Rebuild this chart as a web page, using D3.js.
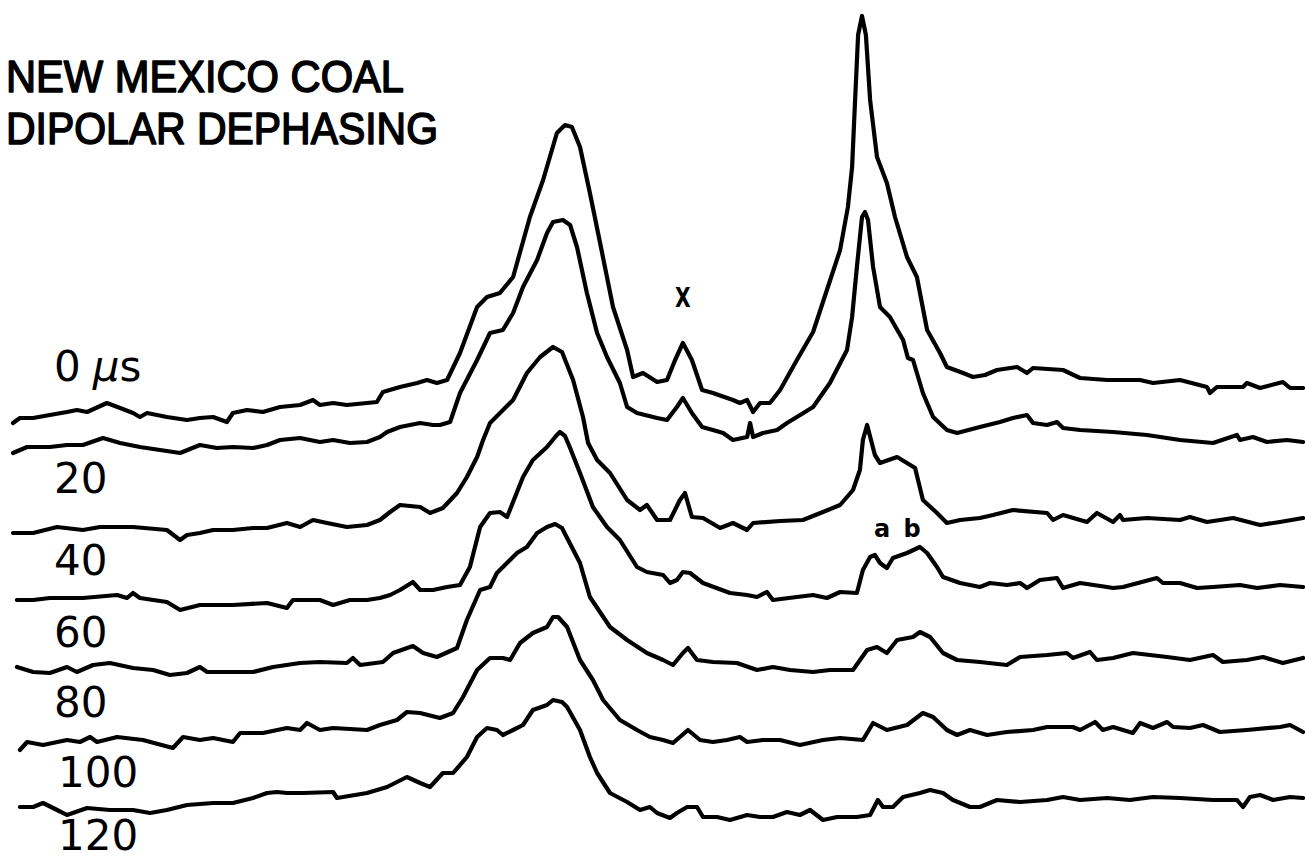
<!DOCTYPE html>
<html>
<head>
<meta charset="utf-8">
<script src="https://cdn.jsdelivr.net/npm/d3@7"></script>
<style>
  html, body { margin: 0; padding: 0; background: #fff; }
  svg { display: block; }
</style>
</head>
<body>
<svg id="chart" width="1305" height="861"></svg>
<script>
// Dipolar-dephasing delays (µs), one spectrum per delay
const delays = [0, 20, 40, 60, 80, 100, 120];
const delayLabels = ["0", "20", "40", "60", "80", "100", "120"];

// Spectra: [chemical shift (ppm), intensity (arb. units)]
const spec0 = [
  [314.0,-16.5],[311.7,-14],[307.3,-14],[301.7,-12.5],[296.0,-11],[292.7,-10],[289.3,-11],[282.7,-6.5],
  [278.3,-9],[274.0,-11.5],[271.7,-13.5],[269.3,-11.5],[262.7,-13.5],[256.0,-15],[251.7,-14],[247.3,-13.5],
  [242.7,-16],[240.7,-11.5],[236.0,-10],[230.7,-11],[225.0,-8.5],[218.3,-7.5],[214.0,-5],[211.7,-7.5],
  [207.3,-6.5],[202.7,-7.5],[196.0,-6.5],[192.7,-6],[190.7,-1],[185.0,1.5],[179.3,3.5],[176.0,5],
  [172.7,3.5],[169.3,5],[165.0,18.5],[159.3,41.5],[156.0,46.5],[151.7,48.5],[147.3,56.5],[141.7,86.5],
  [137.3,105],[132.7,128.5],[130.0,132.5],[127.7,131.5],[125.0,121.5],[121.7,98.5],[118.3,73.5],[114.0,41.5],
  [109.3,20],[107.3,6.5],[104.0,8.5],[99.3,4],[96.0,5],[93.3,15],[90.7,23.5],[87.7,15],
  [84.3,0],[80.7,-1.5],[74.0,-5],[71.7,-6.5],[69.3,-5],[67.3,-11],[65.0,-6.5],[61.7,-6.5],
  [58.3,0],[52.7,15],[47.3,29],[42.7,50],[38.3,70],[35.7,91.5],[34.3,111.5],[33.3,145],
  [32.3,177.5],[31.0,187],[29.7,177.5],[28.3,145],[26.0,116.5],[22.7,103.5],[20.0,86.5],[16.0,66.5],
  [12.7,56.5],[9.3,30],[5.0,18.5],[2.7,11.5],[-2.7,8.5],[-6.0,6.5],[-10.0,7.5],[-14.0,10],
  [-20.7,11.5],[-24.0,8.5],[-26.0,11],[-36.0,10],[-41.7,6],[-50.7,5],[-61.7,5],[-66.0,3.5],
  [-75.0,5],[-84.0,1.5],[-85.0,-1.5],[-87.3,1.5],[-96.0,1.5],[-97.3,3.5],[-101.7,1],[-109.3,4],
  [-111.7,1],[-116.0,1]
];

const spec20 = [
  [314.0,3.5],[309.3,6.5],[301.7,6.5],[296.0,7.5],[290.7,7.5],[284.0,11],[278.3,8.5],[271.7,6.5],
  [265.0,5],[258.3,3.5],[251.7,7.5],[246.0,6],[240.7,6.5],[234.0,6],[229.3,7.5],[225.0,10],
  [218.3,11],[211.7,9],[207.3,10],[201.7,8.5],[196.0,9],[191.7,11.5],[189.3,14],[185.0,16.5],
  [178.3,18.5],[174.0,17.5],[171.7,17.5],[168.3,19],[165.0,33.5],[159.3,50],[155.0,63.5],[150.7,65],
  [147.3,73.5],[144.0,86.5],[139.3,100],[136.0,113.5],[134.0,119],[130.7,120],[128.3,117.5],[126.0,106.5],
  [122.7,83.5],[119.3,63.5],[116.0,51.5],[111.7,38.5],[109.3,26.5],[106.0,23.5],[99.3,21],[96.0,20],
  [92.7,26.5],[90.7,31],[87.7,23.5],[84.3,16.5],[80.7,15],[77.3,13.5],[74.0,10],[69.3,11.5],
  [68.3,18.5],[67.3,11.5],[64.0,13.5],[59.3,15],[56.0,18.5],[52.7,21.5],[47.3,26.5],[41.7,38.5],
  [36.0,55],[34.3,71.5],[32.7,96.5],[31.0,121.5],[30.0,124],[29.0,120],[27.3,96.5],[25.0,76.5],
  [21.7,71.5],[17.3,60],[15.7,51],[14.0,50],[10.7,33.5],[7.3,21.5],[2.7,15],[-0.7,13.5],
  [-8.3,16.5],[-15.0,19],[-19.3,21],[-24.0,22.5],[-26.0,18.5],[-30.7,17.5],[-34.0,19],[-36.0,16],
  [-41.7,15],[-52.7,14],[-64.0,12.5],[-75.0,10],[-86.0,8.5],[-94.0,12.5],[-95.0,10],[-99.3,11.5],
  [-104.0,9],[-110.7,10],[-116.0,9]
];

const spec40 = [
  [314.0,-1.5],[307.3,-1.5],[299.3,1.5],[290.7,0],[285.0,1.5],[279.3,1.5],[274.0,1.5],[262.7,0],
  [258.3,-5],[256.0,-2.5],[251.7,-1.5],[247.3,0],[240.7,0],[234.0,1],[229.3,1],[222.7,3.5],
  [218.3,1.5],[214.0,5],[209.3,3.5],[202.7,1.5],[196.0,2.5],[191.7,5],[188.3,9],[185.0,12.5],
  [178.3,11.5],[175.0,8.5],[170.7,11],[166.0,18.5],[162.7,26.5],[159.3,36.5],[157.3,45],[155.0,53.5],
  [147.3,65],[142.7,78.5],[138.3,86.5],[134.0,91.5],[131.0,89],[127.3,75],[124.0,56.5],[122.3,43.5],
  [119.3,35],[115.0,28.5],[109.3,15],[105.0,10],[102.7,12.5],[99.3,5],[95.0,5],[91.7,15],
  [90.0,18.5],[87.7,6.5],[84.0,6],[78.3,1],[74.0,3.5],[69.3,0],[67.3,3.5],[58.3,4.5],
  [50.7,5],[44.0,9],[38.3,12.5],[34.0,20],[31.7,30],[30.7,45],[29.3,52.5],[28.0,45],
  [26.7,37.5],[25.0,33.5],[19.3,36.5],[16.0,33.5],[13.3,31],[10.7,15],[6.0,8.5],[2.7,3.5],
  [-1.7,5],[-8.3,6],[-12.7,7.5],[-19.3,10],[-30.7,8.5],[-32.7,5],[-36.0,7.5],[-44.0,4],
  [-47.3,8.5],[-52.7,4],[-55.0,7.5],[-56.0,5],[-64.0,6],[-75.0,5],[-78.3,6.5],[-84.0,4],
  [-92.7,6],[-101.7,2.5],[-108.3,4],[-116.0,6]
];

const spec60 = [
  [312.7,0],[307.3,0],[301.7,1],[290.7,1],[279.3,2.5],[276.0,1],[274.0,3.5],[271.7,1],
  [262.7,-1],[258.3,-5],[251.7,-2.5],[240.7,-2.5],[229.3,-1.5],[222.7,-4],[220.7,0],[211.7,0],
  [207.3,-2.5],[201.7,0],[196.0,0],[191.7,1],[188.3,2.5],[185.0,5],[180.7,9],[178.3,5],
  [174.0,5],[169.3,6.5],[165.0,7.5],[161.7,16.5],[158.3,36.5],[155.0,43.5],[151.7,44],[149.3,41.5],
  [144.0,61.5],[140.7,70],[136.0,76.5],[133.0,82],[131.7,84],[130.0,82],[128.3,76],[125.0,63.5],
  [120.7,46.5],[116.0,36.5],[111.7,30],[106.0,16.5],[102.7,14],[97.3,12.5],[95.0,8.5],[92.7,10],
  [90.7,14],[88.3,13.5],[84.0,8.5],[75.0,3.5],[69.3,2.5],[66.0,1.5],[62.7,4],[60.7,0],
  [52.7,1.5],[47.3,2.5],[42.7,1],[38.3,4],[32.7,3.5],[30.7,15],[28.3,21.5],[26.7,22.5],
  [25.0,18.5],[22.7,16],[20.7,21],[16.0,23.5],[11.7,26.5],[9.3,23.5],[6.0,16.5],[4.0,11.5],
  [-1.7,8.5],[-8.3,6.5],[-11.7,8.5],[-17.3,7.5],[-21.7,8.5],[-24.0,6],[-28.3,10],[-34.0,11],
  [-36.0,6],[-41.7,8.5],[-50.7,6.5],[-52.7,6],[-56.0,6.5],[-67.3,11],[-69.3,8.5],[-75.0,8.5],
  [-80.7,6],[-86.0,6.5],[-95.0,7.5],[-100.7,6],[-108.3,7.5],[-116.0,6.5]
];

const spec80 = [
  [312.7,1.5],[307.3,-1],[301.7,-1.5],[296.0,1.5],[292.7,-1],[287.3,2.5],[281.7,3.5],[274.0,1],
  [267.3,0],[261.7,-2.5],[256.0,-1.5],[251.7,1.5],[249.3,-1],[240.7,-1],[234.0,-1],[227.3,1.5],
  [218.3,3.5],[211.7,4],[202.7,3.5],[200.7,6],[198.3,2.5],[190.7,4],[187.3,8.5],[180.7,12],
  [177.3,8.5],[172.7,6.5],[166.0,11],[162.7,25],[158.3,40],[155.0,41.5],[152.7,48.5],[146.0,58.5],
  [142.7,61.5],[139.3,68.5],[136.0,71.5],[133.3,73],[131.0,71],[129.3,66],[125.0,53.5],[121.7,36.5],
  [115.0,21.5],[109.3,15],[102.7,8.5],[97.3,5],[94.0,2.5],[90.7,8.5],[89.0,11],[86.0,5],
  [80.7,4],[72.7,3.5],[66.0,0],[60.7,1.5],[55.0,0],[47.3,-1],[41.7,0],[34.0,0],
  [29.3,10],[26.0,11.5],[22.7,8.5],[19.3,15],[14.0,16.5],[11.7,19],[8.3,16.5],[4.0,8.5],
  [-0.7,5],[-8.3,4],[-17.3,2.5],[-21.7,6.5],[-30.7,7.5],[-37.3,8.5],[-39.3,6],[-45.0,9],
  [-47.3,5],[-52.7,6],[-59.3,8.5],[-70.7,6.5],[-78.3,5],[-86.0,7.5],[-89.3,4],[-97.3,5],
  [-102.7,6.5],[-109.3,3.5],[-116.0,6]
];

const spec100 = [
  [311.7,-5],[309.3,-1],[304.0,-2.5],[296.0,0],[291.7,-1],[288.3,1.5],[286.0,-1],[279.3,1.5],
  [270.7,0],[260.7,-4],[257.3,1.5],[251.7,0],[247.3,1],[240.7,-1],[238.3,3.5],[230.7,3.5],
  [222.7,6],[218.3,5],[216.0,8.5],[211.7,5],[207.3,6],[196.0,5],[191.7,7.5],[186.0,10],
  [182.7,14],[178.3,13.5],[171.7,11],[167.3,13.5],[164.0,21.5],[159.3,35],[155.0,41],[150.7,41],
  [148.3,40],[145.0,48.5],[140.7,53.5],[136.0,56.5],[134.0,61.5],[132.3,61.5],[129.3,56.5],[125.0,40],
  [120.7,30],[117.3,20],[111.7,10],[106.0,5],[101.7,1.5],[97.3,0],[94.0,-1.5],[91.7,1.5],
  [89.0,5],[85.0,0],[80.7,-1],[76.0,0],[71.7,1.5],[69.3,-1],[64.0,0],[58.3,0],
  [51.7,-2.5],[44.0,0],[38.3,1],[30.7,0],[27.3,8.5],[22.7,5],[16.0,7.5],[10.7,13.5],
  [7.3,11.5],[2.7,5],[-0.7,2.5],[-5.0,5],[-10.7,2.5],[-17.3,4],[-26.0,5],[-30.7,6.5],
  [-39.3,6.5],[-41.7,5],[-46.7,9],[-49.3,5],[-52.7,6.5],[-59.3,3.5],[-61.7,8.5],[-66.0,6],
  [-70.7,9],[-72.7,6.5],[-78.3,6],[-82.7,7.5],[-88.3,4],[-97.3,5],[-108.3,6.5],[-111.7,7.5],
  [-116.0,4]
];

const spec120 = [
  [311.7,1.5],[307.3,1.5],[304.0,3.5],[299.3,0],[296.0,-2.5],[289.3,1],[281.7,0],[274.0,0],
  [268.3,-1.5],[262.7,0],[256.0,2.5],[247.3,3.5],[240.7,3.5],[234.0,6],[229.3,8.5],[226.0,9],
  [222.7,8.5],[217.3,8.5],[207.3,9],[206.0,6],[204.0,6.5],[196.0,8.5],[189.3,11.5],[182.7,16.5],
  [178.3,13.5],[175.0,11.5],[170.7,18.5],[167.3,18.5],[162.7,26.5],[159.3,36.5],[156.0,41],[152.7,40],
  [150.7,37.5],[147.3,40],[144.0,42.5],[140.7,50],[136.0,52.5],[134.0,55],[131.0,54],[129.3,51.5],
  [125.0,40],[121.7,26.5],[119.3,18.5],[115.0,8.5],[109.3,4],[105.0,0],[101.7,1.5],[99.3,-1.5],
  [95.0,-4],[92.7,-1.5],[89.3,1.5],[86.0,1.5],[84.0,-3.5],[79.3,-3.5],[75.0,-5],[69.3,-2.5],
  [65.0,-3.5],[60.7,-3.5],[56.0,-1],[51.7,-2.5],[48.3,0],[44.0,-5],[39.3,-3.5],[32.7,-3.5],
  [28.3,-2.5],[25.7,5],[24.0,1.5],[20.7,1.5],[17.3,6.5],[11.7,8.5],[8.3,10],[4.0,8.5],
  [0.7,5],[-5.0,1.5],[-8.3,1.5],[-14.0,5],[-21.7,4],[-30.7,5],[-36.0,6.5],[-41.7,5],
  [-50.7,6],[-58.3,5],[-66.0,6.5],[-75.0,6],[-86.0,5],[-94.0,5],[-96.0,1.5],[-98.3,6.5],
  [-101.7,7.5],[-106.0,5],[-111.7,6.5],[-116.0,6]
];

const spectra = [spec0, spec20, spec40, spec60, spec80, spec100, spec120];

// Peak annotations: label, chemical shift, spectrum index, intensity at the peak
const peakNotes = [
  { text: "X", ppm: 90.7, trace: 0, peak: 23.5 },
  { text: "a", ppm: 24.3, trace: 3, peak: 22.5 },
  { text: "b", ppm: 14.3, trace: 3, peak: 22.5 }
];

// ---- layout ----
const svg = d3.select("#chart");
const x = d3.scaleLinear().domain([315, -116]).range([10, 1303]);
const y = d3.scaleLinear().domain([0, 100]).range([0, -200]);
const firstBaseline = 390, stackStep = 70;
const baseline = i => firstBaseline + i * stackStep;

const line = d3.line()
  .x(d => x(d[0]))
  .y(d => y(d[1]))
  .curve(d3.curveLinear);

svg.append("g")
  .selectAll("path")
  .data(spectra)
  .join("path")
  .attr("transform", (d, i) => `translate(0,${baseline(i)})`)
  .attr("d", line)
  .attr("fill", "none")
  .attr("stroke", "#000")
  .attr("stroke-width", 4.2)
  .attr("stroke-linejoin", "round")
  .attr("stroke-linecap", "round");

// Title
const title = svg.append("g")
  .attr("font-family", "'Liberation Sans', Arial, sans-serif")
  .attr("font-size", 45)
  .attr("fill", "#000")
  .attr("stroke", "#000")
  .attr("stroke-width", 1.6)
  .attr("stroke-linejoin", "round");
title.append("text").attr("x", 6).attr("y", 92)
  .attr("textLength", 398).attr("lengthAdjust", "spacingAndGlyphs")
  .text("NEW MEXICO COAL");
title.append("text").attr("x", 6).attr("y", 144)
  .attr("textLength", 432).attr("lengthAdjust", "spacingAndGlyphs")
  .text("DIPOLAR DEPHASING");

// Delay labels
const labelBaselines = [381, 493, 575, 647, 717, 787, 850];
const labels = svg.append("g")
  .attr("font-family", "'DejaVu Sans', 'Liberation Sans', sans-serif")
  .attr("font-size", 42)
  .attr("fill", "#000");
delayLabels.forEach((t, i) => {
  const txt = labels.append("text")
    .attr("x", t.startsWith("1") ? 58 : 54)
    .attr("y", labelBaselines[i]);
  txt.append("tspan").text(t);
  if (i === 0) {
    txt.append("tspan").attr("dx", 12).attr("font-style", "italic").text("µ");
    txt.append("tspan").text("s");
  }
});

// Peak annotations
const noteGap = { 0: 36, 3: 18 };
svg.append("g")
  .attr("font-family", "'DejaVu Sans', sans-serif")
  .attr("font-weight", "bold")
  .attr("text-anchor", "middle")
  .selectAll("text")
  .data(peakNotes)
  .join("text")
  .attr("font-size", d => d.text === "X" ? 27 : 24)
  .attr("x", d => x(d.ppm))
  .attr("y", d => baseline(d.trace) + y(d.peak) - noteGap[d.trace])
  .attr("transform", d => d.text === "X" ? `translate(${x(d.ppm)},0) scale(0.75,1) translate(${-x(d.ppm)},0)` : null)
  .text(d => d.text);
</script>
</body>
</html>
